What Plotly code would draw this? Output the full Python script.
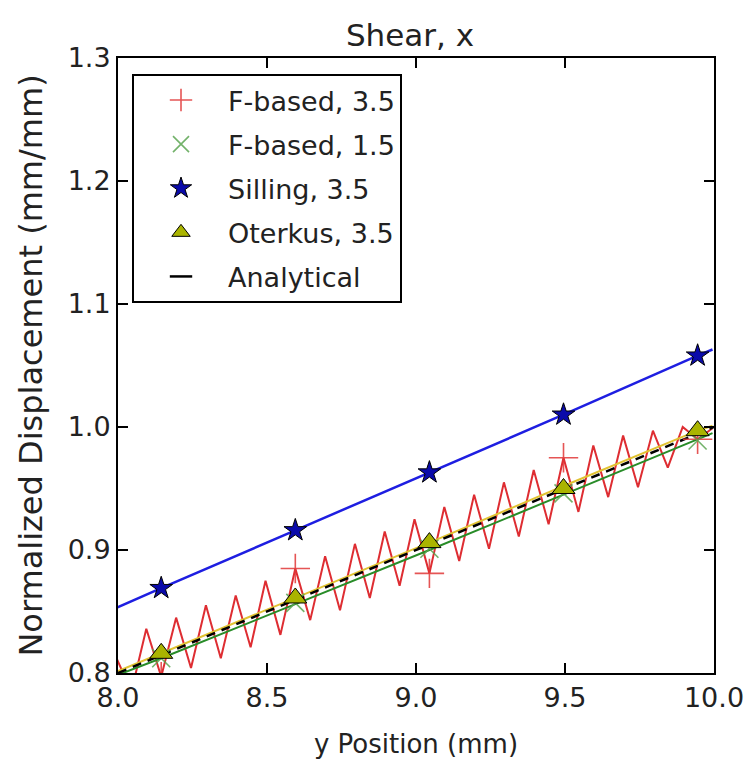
import plotly.graph_objects as go

# ---- data ----
y_position = [7.995, 8.045, 8.095, 8.145, 8.195, 8.245, 8.295, 8.345, 8.395, 8.445,
              8.495, 8.545, 8.595, 8.645, 8.695, 8.745, 8.795, 8.845, 8.895, 8.945,
              8.995, 9.045, 9.095, 9.145, 9.195, 9.245, 9.295, 9.345, 9.395, 9.445,
              9.495, 9.545, 9.595, 9.645, 9.695, 9.745, 9.795, 9.845, 9.895, 9.945,
              9.995]
fbased_35 = [0.812, 0.785, 0.836, 0.797, 0.845, 0.804, 0.855, 0.812, 0.863, 0.821,
             0.875, 0.831, 0.885, 0.843, 0.895, 0.851, 0.905, 0.861, 0.915, 0.871,
             0.925, 0.881, 0.935, 0.891, 0.945, 0.901, 0.955, 0.911, 0.965, 0.921,
             0.975, 0.931, 0.985, 0.943, 0.993, 0.951, 0.997, 0.967, 1.000, 0.990,
             0.999]

line_x = [7.995, 8.145, 8.595, 9.045, 9.495, 9.945, 9.995]
fbased_15_line = [0.798, 0.812, 0.856, 0.900, 0.945, 0.990, 0.995]
silling_line = [0.853, 0.869, 0.916, 0.963, 1.010, 1.058, 1.063]
oterkus_line = [0.801, 0.816, 0.861, 0.906, 0.952, 0.997, 1.001]

marker_x = [8.145, 8.595, 9.045, 9.495, 9.945]
fbased_35_mk = [0.797, 0.885, 0.881, 0.975, 0.990]
fbased_15_mk = [0.812, 0.857, 0.901, 0.946, 0.989]
silling_mk = [0.869, 0.916, 0.963, 1.010, 1.058]
oterkus_mk = [0.816, 0.861, 0.906, 0.950, 0.997]

analytical_x = [8.0, 10.0]
analytical = [0.800, 1.000]

x_ticks = [8.0, 8.5, 9.0, 9.5, 10.0]
y_ticks = [0.8, 0.9, 1.0, 1.1, 1.2, 1.3]

FONT = "DejaVu Sans"
TXT = "#222"

fig = go.Figure()

# lines (no legend entries)
fig.add_trace(go.Scatter(x=y_position, y=fbased_35, mode="lines",
                         line=dict(color="rgb(222,45,50)", width=2),
                         showlegend=False, hoverinfo="skip"))
fig.add_trace(go.Scatter(x=line_x, y=fbased_15_line, mode="lines",
                         line=dict(color="rgb(40,140,40)", width=2),
                         showlegend=False, hoverinfo="skip"))
fig.add_trace(go.Scatter(x=line_x, y=silling_line, mode="lines",
                         line=dict(color="rgb(30,30,225)", width=2.5),
                         showlegend=False, hoverinfo="skip"))
fig.add_trace(go.Scatter(x=line_x, y=oterkus_line, mode="lines",
                         line=dict(color="rgb(225,195,50)", width=2),
                         showlegend=False, hoverinfo="skip"))
fig.add_trace(go.Scatter(x=analytical_x, y=analytical, mode="lines",
                         line=dict(color="black", width=2.5, dash="9px,7px"),
                         showlegend=False, hoverinfo="skip"))

# markers (legend)
fig.add_trace(go.Scatter(x=marker_x, y=fbased_35_mk, mode="markers", name="F-based, 3.5",
                         legendgroup="a",
                         marker=dict(symbol="cross-thin", size=21,
                                     line=dict(color="rgba(225,55,55,0.85)", width=1.6))))
fig.add_trace(go.Scatter(x=marker_x, y=fbased_15_mk, mode="markers", name="F-based, 1.5",
                         legendgroup="b",
                         marker=dict(symbol="x-thin", size=18,
                                     line=dict(color="rgba(90,165,80,0.85)", width=1.6))))
fig.add_trace(go.Scatter(x=marker_x, y=silling_mk, mode="markers", name="Silling, 3.5",
                         legendgroup="c",
                         marker=dict(symbol="star", size=17, color="rgb(10,10,170)",
                                     line=dict(color="black", width=1))))
fig.add_trace(go.Scatter(x=marker_x, y=oterkus_mk, mode="markers", name="Oterkus, 3.5",
                         legendgroup="d",
                         marker=dict(symbol="triangle-up", size=20, color="rgb(170,180,0)",
                                     line=dict(color="black", width=1))))
# legend entry for the analytical line (short dash, as in the reference legend)
fig.add_trace(go.Scatter(x=[None], y=[None], mode="markers", name="Analytical",
                         legendgroup="e",
                         marker=dict(symbol="line-ew", size=16,
                                     line=dict(color="black", width=2.5))))

axis_common = dict(showline=True, linewidth=2, linecolor="black", mirror="ticks",
                   ticks="inside", ticklen=10, tickwidth=1.5, tickcolor="black",
                   showgrid=False, zeroline=False,
                   tickfont=dict(family=FONT, size=27, color=TXT))

fig.update_xaxes(range=[8.0, 10.0], tickvals=x_ticks,
                 ticktext=[f"{v:.1f}" for v in x_ticks],
                 title=dict(text="y Position (mm)", font=dict(family=FONT, size=26, color=TXT),
                            standoff=22),
                 **axis_common)
fig.update_yaxes(range=[0.8, 1.3], tickvals=y_ticks,
                 ticktext=[f"{v:.1f}" for v in y_ticks],
                 title=dict(text="Normalized Displacement (mm/mm)",
                            font=dict(family=FONT, size=32, color=TXT), standoff=15),
                 **axis_common)

fig.update_layout(
    width=752, height=768,
    margin=dict(l=110, r=46, t=50, b=103),
    paper_bgcolor="white", plot_bgcolor="white",
    font=dict(family=FONT, color=TXT),
    title=dict(text="Shear, x", xref="paper", x=0.49, xanchor="center",
               y=0.965, yanchor="middle",
               font=dict(family=FONT, size=31, color=TXT)),
    legend=dict(x=0.0235, y=0.974, xanchor="left", yanchor="top",
                bordercolor="black", borderwidth=2, bgcolor="white",
                font=dict(family=FONT, size=27, color=TXT),
                itemwidth=84, tracegroupgap=6),
)

fig.write_html("out.html")
